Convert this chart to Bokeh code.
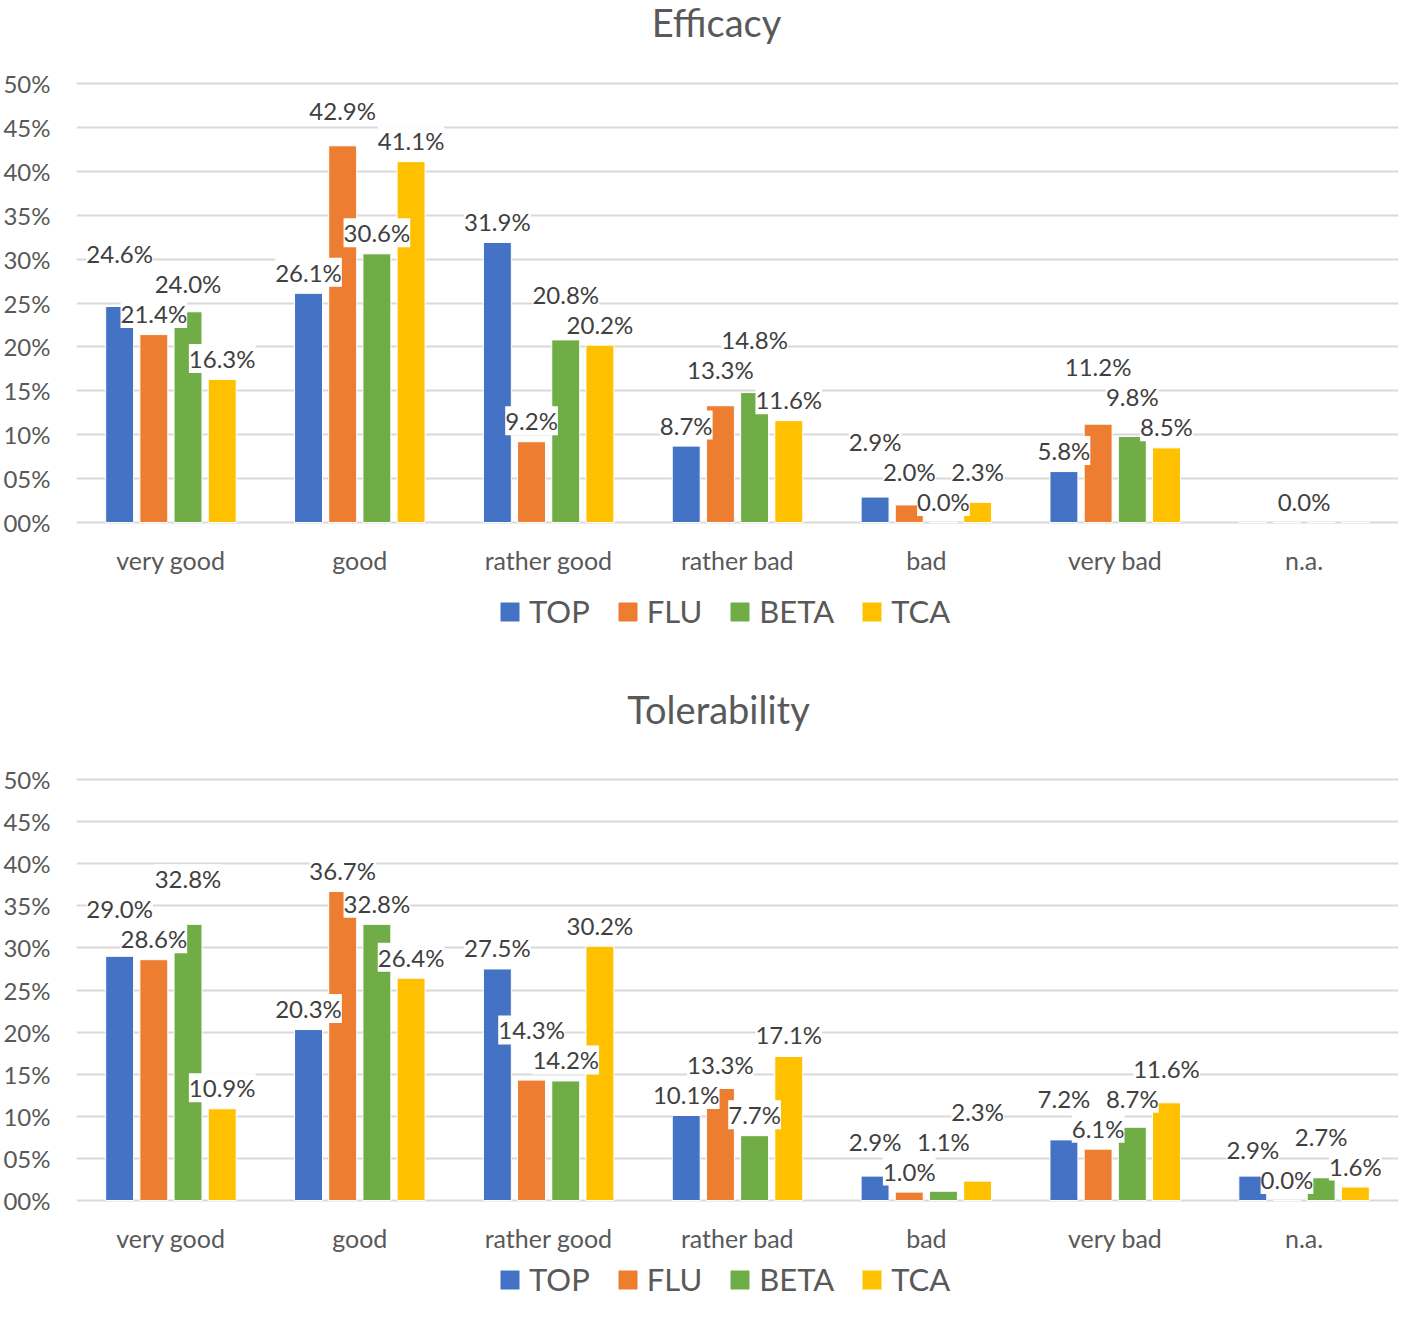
from bokeh.plotting import figure
from bokeh.models import (ColumnDataSource, FactorRange, Range1d, FixedTicker,
                          Legend, LegendItem, LabelSet, PrintfTickFormatter)
from bokeh.layouts import column
from bokeh.embed import file_html
from bokeh.resources import INLINE
from bokeh.transform import dodge
from bokeh.core.properties import value

# ---------------- data ----------------
categories = ["very good", "good", "rather good", "rather bad", "bad", "very bad", "n.a."]
series = ["TOP", "FLU", "BETA", "TCA"]
y_ticks = [0, 5, 10, 15, 20, 25, 30, 35, 40, 45, 50]

efficacy_top = [24.6, 26.1, 31.9, 8.7, 2.9, 5.8, 0.0]
efficacy_flu = [21.4, 42.9, 9.2, 13.3, 2.0, 11.2, 0.0]
efficacy_beta = [24.0, 30.6, 20.8, 14.8, 0.0, 9.8, 0.0]
efficacy_tca = [16.3, 41.1, 20.2, 11.6, 2.3, 8.5, 0.0]

tolerability_top = [29.0, 20.3, 27.5, 10.1, 2.9, 7.2, 2.9]
tolerability_flu = [28.6, 36.7, 14.3, 13.3, 1.0, 6.1, 0.0]
tolerability_beta = [32.8, 32.8, 14.2, 7.7, 1.1, 8.7, 2.7]
tolerability_tca = [10.9, 26.4, 30.2, 17.1, 2.3, 11.6, 1.6]

# ---------------- style ----------------
COLORS = ["#4472C4", "#ED7D31", "#70AD47", "#FFC000"]
FONT = "Lato"
TXT = "#595959"
LBL = "#404040"
GRID = "#D9D9D9"
PITCH = 0.181
OFFSETS = [-1.5 * PITCH, -0.5 * PITCH, 0.5 * PITCH, 1.5 * PITCH]
BAR_W = 0.148
LABEL_GAP = 21   # px between bar top and label centre
LABEL_H = 30     # px label box height used for de-overlapping
CHAR_W = 13.5
WIDTH = 1400


def layout_labels(series_values, px_per_unit, cat_px):
    items = []
    for ci in range(len(categories)):
        vals = [sv[ci] for sv in series_values]
        if all(v == 0 for v in vals):
            items.append((0.0, ci, None))
        else:
            for si, v in enumerate(vals):
                items.append((v, ci, si))
    items.sort(key=lambda t: t[0])
    placed = []
    lx, ly, lt = [], [], []
    for v, ci, si in items:
        off = 0.0 if si is None else OFFSETS[si]
        xs = ci + 0.5 + off
        xpx = xs * cat_px
        txt = f"{v:.1f}%"
        w = len(txt) * CHAR_W + 4
        ypx = v * px_per_unit + LABEL_GAP
        for _ in range(50):
            hit = None
            for (qx, qy, qw) in placed:
                if abs(qx - xpx) < (qw + w) / 2 and abs(qy - ypx) < LABEL_H - 0.5:
                    hit = qy
                    break
            if hit is None:
                break
            ypx = hit + LABEL_H
        placed.append((xpx, ypx, w))
        lx.append(xs)
        ly.append(ypx / px_per_unit)
        lt.append(txt)
    return lx, ly, lt


def make_chart(title, series_values, zero_px, height, left, px_per_unit,
               title_base_px, title_dx, legend_left, legend_bottom):
    right = 2
    ymax = zero_px / px_per_unit
    ymin = -(height - zero_px) / px_per_unit
    p = figure(x_range=FactorRange(factors=categories, range_padding=0, factor_padding=0),
               y_range=Range1d(ymin, ymax), width=WIDTH, height=height,
               output_backend="svg", toolbar_location=None,
               min_border_left=left, min_border_right=right, min_border_top=0,
               min_border_bottom=0)
    p.outline_line_color = None
    p.background_fill_color = "white"
    p.border_fill_color = "white"

    src = ColumnDataSource(dict(cat=categories,
                                **{s: v for s, v in zip(series, series_values)}))
    renderers = []
    for s, off, c in zip(series, OFFSETS, COLORS):
        r = p.vbar(x=dodge("cat", off, range=p.x_range), top=s, width=BAR_W,
                   source=src, fill_color=c, line_color="white", line_width=1)
        renderers.append(r)

    ticker = FixedTicker(ticks=y_ticks)
    p.yaxis.ticker = ticker
    p.yaxis.formatter = PrintfTickFormatter(format="%02d%%")
    p.ygrid.ticker = ticker
    p.ygrid.grid_line_color = GRID
    p.ygrid.grid_line_width = 2
    p.xgrid.grid_line_color = None
    for ax in (p.xaxis, p.yaxis):
        ax.axis_line_color = None
        ax.major_tick_line_color = None
        ax.minor_tick_line_color = None
        ax.major_tick_out = 0
        ax.major_tick_in = 0
        ax.major_label_text_font = FONT
        ax.major_label_text_color = TXT
    p.yaxis.major_label_text_font_size = "24px"
    p.yaxis.major_label_standoff = 26
    p.xaxis.fixed_location = 0          # category axis sits on the 0 % line
    p.xaxis.major_label_text_font_size = "25px"
    p.xaxis.major_label_standoff = 22

    cat_px = (WIDTH - left - right) / len(categories)
    lx, ly, lt = layout_labels(series_values, px_per_unit, cat_px)
    lsrc = ColumnDataSource(dict(x=lx, y=ly, t=lt))
    p.add_layout(LabelSet(x="x", y="y", text="t", source=lsrc, text_align="center",
                          text_baseline="middle", text_font=value(FONT),
                          text_font_size="24px", text_color=LBL,
                          background_fill_color="white"))

    tsrc = ColumnDataSource(dict(x=[categories[3]],
                                 y=[(zero_px - title_base_px) / px_per_unit],
                                 t=[title]))
    p.text(x="x", y="y", text="t", source=tsrc, text_align="center",
           text_baseline="alphabetic", x_offset=title_dx,
           text_font=value(FONT), text_font_size="38px", text_color=TXT)

    legend = Legend(items=[LegendItem(label=s, renderers=[r]) for s, r in zip(series, renderers)],
                    orientation="horizontal", location=(legend_left, legend_bottom),
                    glyph_width=25, glyph_height=25, label_standoff=7, spacing=25,
                    label_text_font=FONT, label_text_font_size="31px",
                    label_text_color=TXT, border_line_color=None,
                    background_fill_alpha=0, margin=0, padding=4)
    p.add_layout(legend)
    return p


p1 = make_chart("Efficacy", [efficacy_top, efficacy_flu, efficacy_beta, efficacy_tca],
                zero_px=522, height=635, left=69, px_per_unit=8.78,
                title_base_px=21, title_dx=-21, legend_left=421, legend_bottom=5)
p2 = make_chart("Tolerability", [tolerability_top, tolerability_flu, tolerability_beta, tolerability_tca],
                zero_px=565, height=666, left=65, px_per_unit=8.42,
                title_base_px=73, title_dx=-19, legend_left=421, legend_bottom=3)

layout = column(p1, p2)
open("out.html", "w").write(file_html(layout, INLINE))
